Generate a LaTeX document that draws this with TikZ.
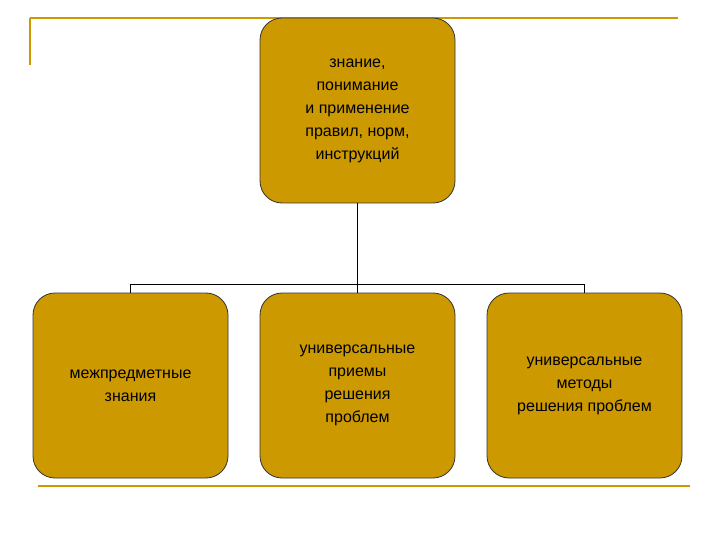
\documentclass[tikz,border=0pt]{standalone}
\usepackage{fontspec}
\setmainfont{Liberation Sans}
\begin{document}
\begin{tikzpicture}[x=1pt,y=-1pt,
  box/.style={draw=black!80,line width=0.8pt,fill=gold,rounded corners=22pt,minimum width=195pt,minimum height=185pt,align=center,font=\fontsize{16}{23}\selectfont,inner sep=2pt},
  deco/.style={draw=gold,line width=1.5pt}]
\definecolor{gold}{HTML}{CC9900}
\useasboundingbox (0,0) rectangle (720,540);
\draw[deco] (30,18) -- (678,18);
\draw[deco] (30,18) -- (30,65);
\draw[deco] (38,486) -- (690,486);
\node[box] (top) at (357.5,110.5) {знание,\\понимание\\и применение\\правил, норм,\\инструкций};
\node[box] (l) at (130.5,385.5) {межпредметные\\знания};
\node[box] (m) at (357.5,385.5) {универсальные\\приемы\\решения\\проблем};
\node[box] (r) at (584.5,385.5) {универсальные\\методы\\решения проблем};
\coordinate (j) at (357.5,285);
\draw[line width=1.2pt] (top.south) -- (j);
\draw[line width=1.2pt] (l.north) -- ++(0,-8) -| (r.north);
\draw[line width=1.2pt] (j) -- (m.north);
\end{tikzpicture}
\end{document}
